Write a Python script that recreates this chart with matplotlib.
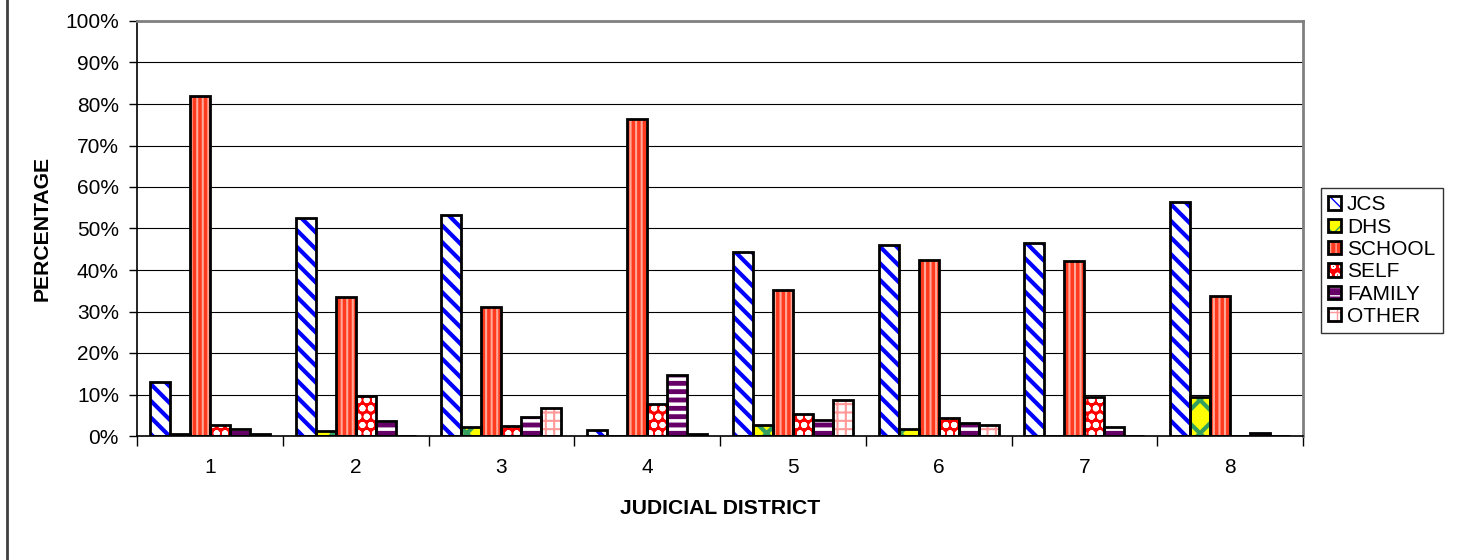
"""Referral source by judicial district - grouped bar chart recreation."""
import matplotlib
matplotlib.use('Agg')
import matplotlib.pyplot as plt
from matplotlib.patches import Patch
from matplotlib.legend_handler import HandlerTuple
import numpy as np

# --- data (percent of referrals)
districts = ['1', '2', '3', '4', '5', '6', '7', '8']
series = ['JCS', 'DHS', 'SCHOOL', 'SELF', 'FAMILY', 'OTHER']
jcs    = [13.0, 52.5, 53.2, 1.4, 44.4, 46.0, 46.6, 56.5]
dhs    = [0.5, 1.3, 2.1, 0.0, 2.7, 1.6, 0.0, 9.5]
school = [82.0, 33.6, 31.0, 76.4, 35.1, 42.5, 42.2, 33.8]
self_  = [2.6, 9.7, 2.4, 7.6, 5.3, 4.4, 9.3, 0.0]
family = [1.7, 3.5, 4.5, 14.7, 3.9, 3.1, 2.2, 0.8]
other  = [0.5, 0.0, 6.8, 0.6, 8.7, 2.7, 0.0, 0.0]
values = [jcs, dhs, school, self_, family, other]

# fill style per series: (face, hatch, hatch colour, hatch linewidth)
styles = [
    ('white',   '\\\\',  '#0000FF', 3.0),
    ('#FFFF00', 'x',     '#33A060', 3.0),
    ('#FF3A1E', '|||',   '#FFA898', 1.5),
    ('#FF0000', 'oo',    'white',   2.0),
    ('#660066', '--',    'white',   2.5),
    ('white',   '++',    '#FF9999', 1.5),
]

plt.rcParams['font.family'] = ['Liberation Sans', 'DejaVu Sans']

fig = plt.figure(figsize=(14.61, 5.6), dpi=100)
fig.patch.set_facecolor('white')
ax = fig.add_axes([137 / 1461, 1 - 436 / 560, (1303 - 137) / 1461, (436 - 21) / 560])

x = np.arange(len(districts))
w = 0.137
for k, (vals, (fc, hatch, hc, hlw)) in enumerate(zip(values, styles)):
    pos = x + (k - 2.5) * w
    with plt.rc_context({'hatch.linewidth': hlw}):
        ax.bar(pos, vals, width=w, color=fc, hatch=hatch, edgecolor=hc, linewidth=0, zorder=2)
    ax.bar(pos, vals, width=w, fill=False, edgecolor='black', linewidth=2, zorder=3)

ax.set_xlim(-0.5, len(districts) - 0.5)
ax.set_ylim(0, 100)
ax.set_yticks(np.arange(0, 101, 10))
ax.set_yticklabels([f'{v}%' for v in range(0, 101, 10)])
ax.yaxis.grid(True, color='black', linewidth=0.8, zorder=0)
ax.set_axisbelow(True)

# category labels centred, tick marks at group boundaries
ax.set_xticks(x)
ax.set_xticklabels(districts)
ax.tick_params(axis='x', length=0, labelsize=15, pad=16)
ax.set_xticks(np.arange(-0.5, len(districts)), minor=True)
ax.tick_params(axis='x', which='minor', length=7, width=1, direction='out')
ax.tick_params(axis='y', length=6, width=1, labelsize=15, direction='out', pad=7)

ax.spines['top'].set_color('#808080')
ax.spines['right'].set_color('#808080')
ax.spines['top'].set_linewidth(2)
ax.spines['right'].set_linewidth(2)
ax.spines['left'].set_linewidth(1.2)
ax.spines['bottom'].set_linewidth(1.2)

ax.set_ylabel('PERCENTAGE', fontsize=15.2, fontweight='bold', labelpad=10)
ax.set_xlabel('JUDICIAL DISTRICT', fontsize=15.2, fontweight='bold', labelpad=16)

# legend: hatched fill + black outline overlaid in each key
handles = []
for fc, hatch, hc, hlw in styles:
    with plt.rc_context({'hatch.linewidth': hlw * 0.6}):
        fill = Patch(facecolor=fc, hatch=hatch, edgecolor=hc, linewidth=0)
    outline = Patch(fill=False, edgecolor='black', linewidth=2)
    handles.append((fill, outline))
leg = fig.legend(handles, series, loc='upper left', bbox_to_anchor=(1321 / 1461, 1 - 188 / 560),
                 handler_map={tuple: HandlerTuple(ndivide=1, pad=0)},
                 fontsize=15, frameon=True, fancybox=False, edgecolor='black',
                 handlelength=0.6, handleheight=0.6, handletextpad=0.3,
                 borderpad=0.35, labelspacing=0.16, borderaxespad=0)
leg.get_frame().set_linewidth(1)

# left frame line of the chart area
fig.add_artist(plt.Line2D([7 / 1461, 7 / 1461], [0, 1], color='#404040', linewidth=2,
                          transform=fig.transFigure))

plt.savefig('out.png', dpi=100)
